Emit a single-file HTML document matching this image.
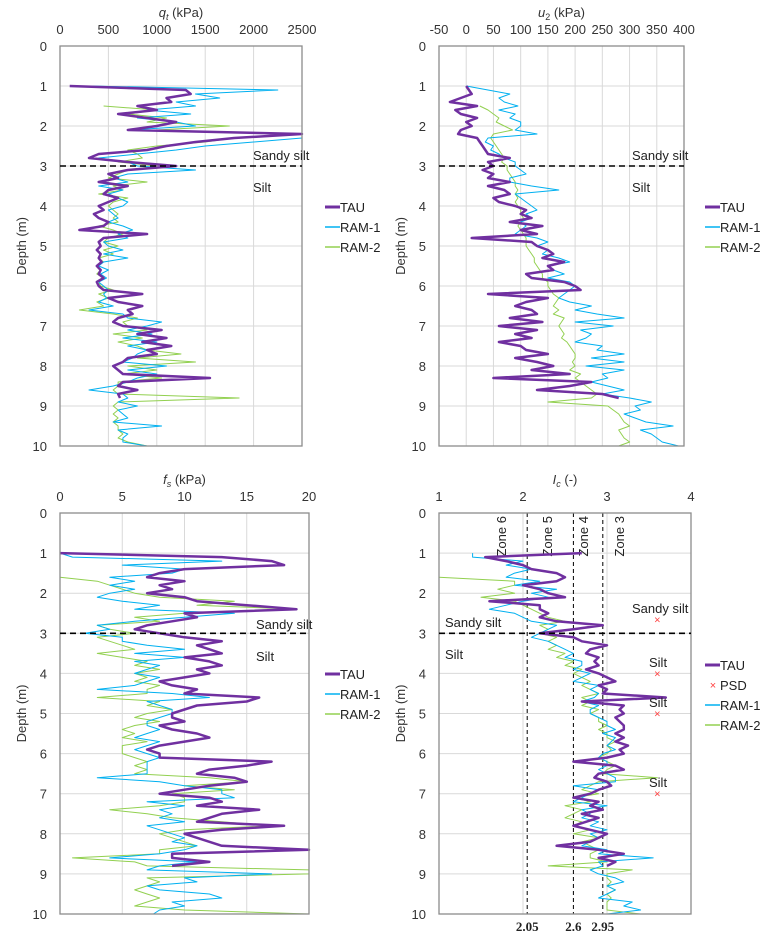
<!DOCTYPE html>
<html><head><meta charset="utf-8"><style>
html,body{margin:0;padding:0;background:#fff;}
svg{display:block;font-family:"Liberation Sans",sans-serif;}
</style></head><body>
<svg id="chart" width="770" height="935" viewBox="0 0 770 935" xmlns="http://www.w3.org/2000/svg"></svg>
<script>
const depths=[];for(let i=0;i<=90;i++)depths.push(+(1+i*0.1).toFixed(1));
const N=null;
const qtTAU=[100,1300,1350,1100,1150,800,1000,600,900,1200,1000,700,2500,1800,1400,1100,900,400,300,700,1200,700,500,600,400,700,500,450,600,500,400,450,350,400,500,450,200,900,450,400,420,380,420,400,430,380,420,400,450,380,400,450,850,500,600,850,700,750,600,550,650,1050,800,1100,850,1150,900,1000,700,650,550,600,650,1550,650,600,800,600,620,N,N,N,N,N,N,N,N,N,N,N,N];
const qtRAM1=[300,2250,1400,1650,1200,1400,900,1350,800,1200,1400,700,2500,2500,2000,1500,1200,800,400,700,800,1400,700,550,700,400,650,500,600,700,650,500,550,600,500,650,750,600,700,450,500,650,450,700,450,400,500,420,480,400,450,500,450,480,400,550,300,650,700,1050,900,700,950,650,1000,700,900,800,750,650,1100,700,1000,800,700,550,300,650,700,600,800,600,650,700,550,1050,600,700,650,650,900];
const qtRAM2=[N,N,N,N,N,450,1000,700,1100,900,1750,1000,2500,1800,1500,1000,700,800,850,600,1000,700,600,500,900,550,650,400,700,550,500,550,600,550,600,400,550,650,500,450,600,450,550,400,450,380,420,380,450,400,420,550,400,500,380,450,200,550,800,650,700,900,550,850,600,800,900,1250,800,1400,700,1000,650,1050,600,600,550,600,1850,600,550,600,550,600,550,600,600,650,600,700,900];
const u2TAU=[0,5,10,-10,-30,20,-20,-10,20,0,10,-10,-15,20,25,30,35,40,80,40,50,30,50,40,80,40,70,80,50,60,90,110,100,120,80,140,100,130,10,120,130,150,160,140,180,150,160,110,120,180,200,210,40,150,110,90,120,130,80,140,60,130,90,120,60,100,110,150,90,130,160,120,190,50,230,190,130,250,280,N,N,N,N,N,N,N,N,N,N,N,N];
const u2RAM1=[0,40,80,60,70,95,60,90,80,100,100,90,130,40,35,50,45,60,70,90,90,100,110,80,80,120,170,90,100,110,120,130,110,120,100,110,100,90,130,150,130,150,140,170,190,150,160,180,150,190,200,190,180,170,190,230,200,240,290,200,270,210,230,220,200,250,240,290,230,290,220,290,250,260,230,260,290,250,300,340,310,320,290,310,330,380,320,340,350,360,390];
const u2RAM2=[N,N,N,N,N,25,40,50,60,55,70,85,50,45,50,55,60,65,70,65,75,75,80,85,90,90,95,90,95,90,95,100,100,105,100,95,100,105,110,110,110,115,120,125,125,130,135,140,140,150,150,155,160,170,165,160,170,160,180,175,170,175,180,175,185,190,195,200,200,195,200,190,210,200,210,220,230,240,230,150,260,270,280,285,290,300,280,285,290,300,280];
const fsTAU=[0,13,17,18,10,8,7,10,8,9,7,10,11,15,19,10,11,9,7,6,8,10,13,11,12,13,10,12,13,11,12,10,8,9,11,10,16,15,11,10,9,9,10,8,9,11,12,10,8,7,8,8,17,15,12,11,14,15,12,10,8,12,13,11,16,13,12,11,18,13,10,11,12,13,20,9,9,12,9,N,N,N,N,N,N,N,N,N,N,N,N];
const fsRAM1=[0,1,13,5,10,9,4,6,4,6,4,3,5,8,6,14,10,6,3,4,2,5,5,7,10,6,10,6,8,7,6,8,7,6,3,9,12,7,8,9,9,8,7,7,8,7,6,8,7,6,7,8,7,7,7,7,3,8,10,13,13,14,7,10,8,9,8,10,7,8,9,10,9,11,10,8,4,11,8,7,17,10,11,7,8,12,13,9,10,8,7.5];
const fsRAM2=[N,N,N,N,N,N,0,3,4,5,6,8,14,11,19,10,6,8,3,4,6,3,4,5,6,3,5,7,6,8,6,7,6,8,7,7,3,8,7,9,7,6,8,6,5,6,5,7,5,5,5,6,7,6,7,6,12,15,10,14,9,10,10,8,4,7,9,13,17,10,8,9,10,11,8,8,1,6,7,20,20,7,8,7,6,7,8,7,6,10,20];
const icTAU=[2.7,1.55,1.8,2.0,2.1,2.4,2.5,2.4,2.0,2.2,2.3,2.5,1.6,2.2,2.2,2.3,2.2,2.4,2.95,2.6,2.2,2.6,2.7,3.0,2.8,2.75,2.9,2.85,2.9,2.75,2.9,3.0,3.1,2.9,3.0,2.95,3.7,2.7,3.2,3.15,3.2,3.1,3.15,3.2,3.2,3.1,3.2,3.1,3.25,3.15,3.2,3.0,2.6,3.1,3.2,2.9,2.85,3.0,3.05,2.9,2.8,2.6,2.9,2.8,2.95,2.7,2.9,2.75,2.6,2.8,3.0,2.9,2.8,2.4,2.9,3.2,2.9,3.1,3.0,N,N,N,N,N,N,N,N,N,N,N,N];
const icRAM1=[1.4,1.4,2.0,1.8,2.1,1.9,1.8,2.2,1.9,2.4,2.1,2.3,2.0,1.8,1.6,1.9,2.0,2.1,2.4,2.3,2.2,2.1,2.3,2.4,2.5,2.6,2.5,2.7,2.7,2.6,2.8,2.7,2.6,2.9,2.8,2.9,2.85,2.7,2.9,2.8,2.8,2.9,3.0,3.0,3.1,2.95,3.1,3.05,3.0,3.1,2.95,2.9,3.0,3.0,2.9,3.0,3.1,3.1,2.6,2.9,2.8,2.7,2.6,3.0,2.7,2.8,2.7,2.9,2.8,3.0,2.8,2.9,2.8,2.7,3.0,2.9,3.55,2.9,2.95,2.8,2.9,3.1,3.2,3.0,3.1,3.0,2.9,3.3,3.2,3.4,3.0];
const icRAM2=[N,N,N,N,N,N,1.0,1.9,1.9,1.7,1.9,1.5,1.9,2.0,2.1,2.2,2.3,2.5,2.2,2.3,2.2,2.4,2.3,2.4,2.3,2.5,2.4,2.6,2.5,2.7,2.6,2.7,2.8,2.7,2.8,2.9,2.7,2.8,2.7,2.9,2.8,2.9,2.9,3.0,2.9,3.0,3.0,3.1,3.0,3.05,3.0,2.9,3.0,3.1,3.0,2.95,3.6,2.9,2.8,2.7,2.9,2.6,2.8,2.5,2.7,2.6,2.5,2.7,2.6,2.8,2.6,2.9,2.7,2.8,2.9,2.8,2.8,3.0,2.3,3.3,3.0,3.0,3.05,3.0,3.1,3.0,3.05,3.0,3.0,3.0,3.4];
const psdDepths=[2.65,4.0,5.0,7.0];
const psdIc=[3.6,3.6,3.6,3.6];
const zoneBounds=[2.05,2.6,2.95];
const qtTicks=[0,500,1000,1500,2000,2500];
const u2Ticks=[-50,0,50,100,150,200,250,300,350,400];
const fsTicks=[0,5,10,15,20];
const icTicks=[1,2,3,4];
const depthTicks=[0,1,2,3,4,5,6,7,8,9,10];

const svg=document.getElementById('chart');
const NS='http://www.w3.org/2000/svg';
function mk(tag,attrs,parent){const e=document.createElementNS(NS,tag);for(const k in attrs)e.setAttribute(k,attrs[k]);(parent||svg).appendChild(e);return e;}
const COL={TAU:'#7030a0',R1:'#00b0f0',R2:'#92d050'};

function panel(P){
  const g=mk('g',{});
  
  
  const xs=v=>P.x0+(v-P.min)/(P.max-P.min)*(P.x1-P.x0);
  const ys=d=>P.y0+d/10*(P.y1-P.y0);
  P.xs=xs;P.ys=ys;
  P.ticks.forEach(t=>{const l=mk('line',{x1:xs(t),x2:xs(t),y1:P.y0,y2:P.y1,stroke:'#d9d9d9','stroke-width':1},g);
    
    const tx=mk('text',{x:xs(t),y:P.y0-12,'text-anchor':'middle','font-size':13,fill:'#333'},g);tx.textContent=t;
    });
  depthTicks.forEach(d=>{const l=mk('line',{x1:P.x0,x2:P.x1,y1:ys(d),y2:ys(d),stroke:'#d9d9d9','stroke-width':1},g);
    
    const tx=mk('text',{x:P.x0-13,y:ys(d)+5,'text-anchor':'end','font-size':13,fill:'#333'},g);tx.textContent=d;
    });
  const yt=mk('text',{x:0,y:0,transform:`translate(${P.x0-34},${(P.y0+P.y1)/2}) rotate(-90)`,'text-anchor':'middle','font-size':13,fill:'#333'},g);
  yt.textContent='Depth (m)';
  
  const ti=mk('text',{x:(P.x0+P.x1)/2,y:P.y0-29,'text-anchor':'middle','font-size':13,fill:'#333'},g);
  ti.innerHTML=P.title;
  
  return g;
}
function series(P,g,vals,color,w,name){
  let d='';let pen=false;
  vals.forEach((v,i)=>{if(v===null){pen=false;return;}d+=(pen?'L':'M')+P.xs(v).toFixed(1)+' '+P.ys(depths[i]).toFixed(1);pen=true;});
  const p=mk('path',{d:d,fill:'none',stroke:color,'stroke-width':w,'stroke-linejoin':'round'},g);
  
}
function frame(P,g){const r=mk('rect',{x:P.x0,y:P.y0,width:P.x1-P.x0,height:P.y1-P.y0,fill:'none',stroke:'#8c8c8c','stroke-width':1.3},g);
  }
function boundary(P,g){const l=mk('line',{x1:P.x0,x2:P.x1,y1:P.ys(3),y2:P.ys(3),stroke:'#000','stroke-width':1.6,'stroke-dasharray':'6,4'},g);
  }
function label(g,x,y,t,name){const e=mk('text',{x:x,y:y,'font-size':13,fill:'#222'},g);e.textContent=t;
  }
function legend(g,x,y,items){items.forEach((it,i)=>{const yy=y+i*20;
  if(it.psd){const m=mk('text',{x:x+8,y:yy+4,'font-size':11,fill:'#ff4040','text-anchor':'middle'},g);m.textContent='×';}
  else mk('line',{x1:x,x2:x+15,y1:yy,y2:yy,stroke:it.c,'stroke-width':it.w},g);
  const t=mk('text',{x:x+15,y:yy+5,'font-size':13,fill:'#222'},g);t.textContent=it.n;
  });}
const L3=[{n:'TAU',c:COL.TAU,w:3},{n:'RAM-1',c:COL.R1,w:1.5},{n:'RAM-2',c:COL.R2,w:1.5}];

const P1={name:'qt-panel',x0:60,x1:302,y0:46,y1:446,min:0,max:2500,ticks:qtTicks,title:'<tspan font-style="italic">q</tspan><tspan font-style="italic" font-size="9" dy="3">t</tspan><tspan dy="-3"> (kPa)</tspan>'};
let g=panel(P1);
series(P1,g,qtRAM2,COL.R2,1,'ram2-qt-line');series(P1,g,qtRAM1,COL.R1,1,'ram1-qt-line');series(P1,g,qtTAU,COL.TAU,2.5,'tau-qt-line');
frame(P1,g);boundary(P1,g);label(g,253,160,'Sandy silt','sandy-silt-label');label(g,253,192,'Silt','silt-label');legend(g,325,207,L3);

const P2={name:'u2-panel',x0:439,x1:684,y0:46,y1:446,min:-50,max:400,ticks:u2Ticks,title:'<tspan font-style="italic">u</tspan><tspan font-size="9" dy="3">2</tspan><tspan dy="-3"> (kPa)</tspan>'};
g=panel(P2);
series(P2,g,u2RAM2,COL.R2,1,'ram2-u2-line');series(P2,g,u2RAM1,COL.R1,1,'ram1-u2-line');series(P2,g,u2TAU,COL.TAU,2.5,'tau-u2-line');
frame(P2,g);boundary(P2,g);label(g,632,160,'Sandy silt','sandy-silt-label');label(g,632,192,'Silt','silt-label');legend(g,705,207,L3);

const P3={name:'fs-panel',x0:60,x1:309,y0:513,y1:914,min:0,max:20,ticks:fsTicks,title:'<tspan font-style="italic">f</tspan><tspan font-style="italic" font-size="9" dy="3">s</tspan><tspan dy="-3"> (kPa)</tspan>'};
g=panel(P3);
series(P3,g,fsRAM2,COL.R2,1,'ram2-fs-line');series(P3,g,fsRAM1,COL.R1,1,'ram1-fs-line');series(P3,g,fsTAU,COL.TAU,2.5,'tau-fs-line');
frame(P3,g);boundary(P3,g);label(g,256,629,'Sandy silt','sandy-silt-label');label(g,256,661,'Silt','silt-label');legend(g,325,674,L3);

const P4={name:'ic-panel',x0:439,x1:691,y0:513,y1:914,min:1,max:4,ticks:icTicks,title:'<tspan font-style="italic">I</tspan><tspan font-style="italic" font-size="9" dy="3">c</tspan><tspan dy="-3"> (-)</tspan>'};
g=panel(P4);
zoneBounds.forEach(z=>{const l=mk('line',{x1:P4.xs(z),x2:P4.xs(z),y1:P4.y0,y2:P4.y1,stroke:'#000','stroke-width':1,'stroke-dasharray':'4,3'},g);
  
  const t=mk('text',{x:P4.xs(z),y:931,'text-anchor':'middle','font-size':13,'font-weight':'bold','font-family':'Liberation Serif, serif',fill:'#222'},g);
  t.textContent=z;});
[['Zone 6',506],['Zone 5',552],['Zone 4',588],['Zone 3',624]].forEach(z=>{
  const t=mk('text',{x:0,y:0,transform:`translate(${z[1]},${P4.y0+3}) rotate(-90)`,'text-anchor':'end','font-size':13,fill:'#222'},g);
  t.textContent=z[0];});
series(P4,g,icRAM2,COL.R2,1,'ram2-ic-line');series(P4,g,icRAM1,COL.R1,1,'ram1-ic-line');series(P4,g,icTAU,COL.TAU,2.5,'tau-ic-line');
psdDepths.forEach((d,i)=>{const t=mk('text',{x:P4.xs(psdIc[i]),y:P4.ys(d)+4,'text-anchor':'middle','font-size':11,fill:'#ff4040'},g);
  t.textContent='×';});
frame(P4,g);boundary(P4,g);
label(g,445,627,'Sandy silt','sandy-silt-label');label(g,445,659,'Silt','silt-label');
label(g,632,613,'Sandy silt','psd-sandy-silt-label');label(g,649,667,'Silt','psd-silt-label');label(g,649,707,'Silt','psd-silt-label');label(g,649,787,'Silt','psd-silt-label');
legend(g,705,665,[{n:'TAU',c:COL.TAU,w:3},{n:'PSD',psd:true},{n:'RAM-1',c:COL.R1,w:1.5},{n:'RAM-2',c:COL.R2,w:1.5}]);
</script>
</body></html>
